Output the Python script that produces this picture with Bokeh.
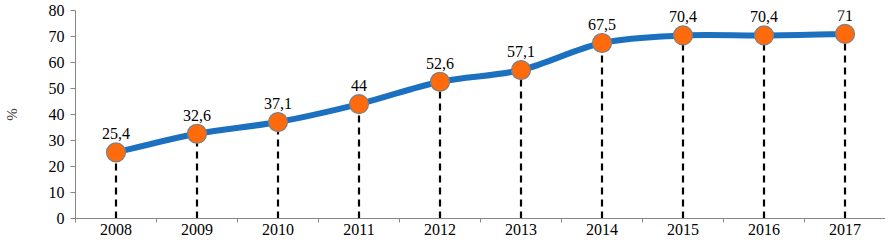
from bokeh.plotting import figure
from bokeh.models import ColumnDataSource, Range1d, FixedTicker, LabelSet
from bokeh.embed import file_html
from bokeh.resources import INLINE

years = ["2008", "2009", "2010", "2011", "2012", "2013", "2014", "2015", "2016", "2017"]
values = [25.4, 32.6, 37.1, 44, 52.6, 57.1, 67.5, 70.4, 70.4, 71]
y_ticks = [0, 10, 20, 30, 40, 50, 60, 70, 80]

xs = list(range(len(years)))
labels = [(f"{v:g}").replace(".", ",") for v in values]

FONT = "Liberation Serif"

p = figure(width=885, height=237, output_backend="svg", toolbar_location=None,
           x_range=Range1d(-0.5, len(years) - 0.5), y_range=Range1d(0, 80),
           min_border_left=0, min_border_right=0, min_border_top=10, min_border_bottom=0)
p.outline_line_color = None
p.xgrid.grid_line_color = None
p.ygrid.grid_line_color = None
p.background_fill_color = "white"

# x axis: labels centred, tick marks between categories
p.xaxis.ticker = FixedTicker(ticks=xs, minor_ticks=[i - 0.5 for i in range(len(years) + 1)])
p.xaxis.major_label_overrides = {i: y for i, y in enumerate(years)}
p.xaxis.major_tick_line_color = None
p.xaxis.major_tick_in = 0
p.xaxis.major_tick_out = 3
p.xaxis.minor_tick_in = 0
p.xaxis.minor_tick_out = 4
p.xaxis.minor_tick_line_color = "#868686"
p.xaxis.axis_line_color = "#868686"
p.xaxis.major_label_text_font = FONT
p.xaxis.major_label_text_font_size = "16px"
p.xaxis.major_label_text_color = "black"
p.xaxis.major_label_standoff = 1

p.yaxis.ticker = FixedTicker(ticks=y_ticks)
p.yaxis.minor_tick_line_color = None
p.yaxis.major_tick_in = 0
p.yaxis.major_tick_out = 5
p.yaxis.major_tick_line_color = "#868686"
p.yaxis.axis_line_color = "#868686"
p.yaxis.major_label_text_font = FONT
p.yaxis.major_label_text_font_size = "16px"
p.yaxis.major_label_text_color = "black"
p.yaxis.major_label_standoff = 6
p.yaxis.axis_label = "%"
p.yaxis.axis_label_text_font = FONT
p.yaxis.axis_label_text_font_style = "normal"
p.yaxis.axis_label_text_font_size = "15px"
p.yaxis.axis_label_standoff = 26

src = ColumnDataSource(dict(x=xs, y=values, zero=[0] * len(xs), lab=labels))

# dashed drop lines
p.segment(x0="x", y0="zero", x1="x", y1="y", source=src,
          line_color="black", line_width=2.2, line_dash="7 5")

# smoothed line (bezier segments through the data points)
t = 1.0 / 6.0
x0s, y0s, x1s, y1s, cx0, cy0, cx1, cy1 = [], [], [], [], [], [], [], []
n = len(xs)
for i in range(n - 1):
    xp, yp = (xs[i - 1], values[i - 1]) if i > 0 else (xs[i], values[i])
    xa, ya = xs[i], values[i]
    xb, yb = xs[i + 1], values[i + 1]
    xn, yn = (xs[i + 2], values[i + 2]) if i + 2 < n else (xb, yb)
    x0s.append(xa); y0s.append(ya); x1s.append(xb); y1s.append(yb)
    cx0.append(xa + (xb - xp) * t); cy0.append(ya + (yb - yp) * t)
    cx1.append(xb - (xn - xa) * t); cy1.append(yb - (yn - ya) * t)
p.bezier(x0=x0s, y0=y0s, x1=x1s, y1=y1s, cx0=cx0, cy0=cy0, cx1=cx1, cy1=cy1,
         line_color="#1C70C0", line_width=6)

p.scatter(x="x", y="y", source=src, size=19, fill_color="#FF6A0D",
          line_color="#7F7F7F", line_width=1.2)

lbl = LabelSet(x="x", y="y", text="lab", source=src, text_align="center",
               text_baseline="bottom", y_offset=13, text_font=FONT,
               text_font_size="16px", text_color="black")
p.add_layout(lbl)

open("out.html", "w").write(file_html(p, INLINE))
